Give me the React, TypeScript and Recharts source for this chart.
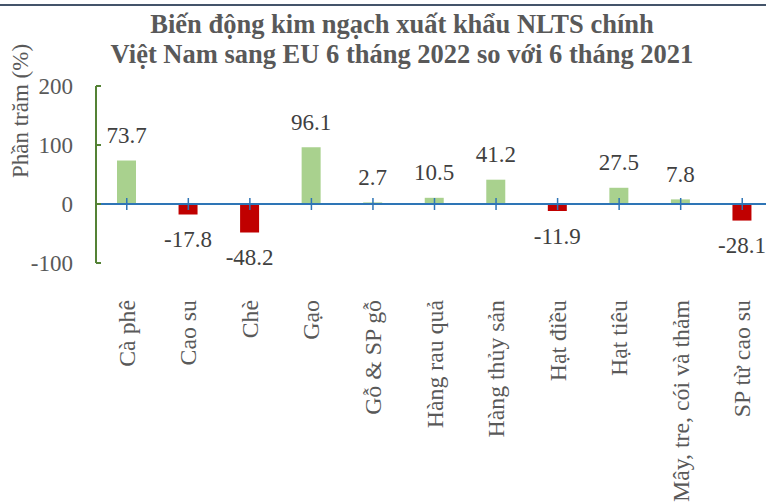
import {
  BarChart,
  Bar,
  XAxis,
  YAxis,
  Cell,
  LabelList,
  ReferenceLine,
  ReferenceDot,
} from 'recharts'

const categories = [
  'Cà phê',
  'Cao su',
  'Chè',
  'Gạo',
  'Gỗ & SP gỗ',
  'Hàng rau quả',
  'Hàng thủy sản',
  'Hạt điều',
  'Hạt tiêu',
  'Mây, tre, cói và thảm',
  'SP từ cao su',
]
const changes = [73.7, -17.8, -48.2, 96.1, 2.7, 10.5, 41.2, -11.9, 27.5, 7.8, -28.1]
const yTicks = [-100, 0, 100, 200]

const data = categories.map((name, i) => ({ name, value: changes[i] }))

const FONT = '"Liberation Serif", "Times New Roman", serif'
const GREEN = '#a9d18e'
const RED = '#c00000'
const AXIS_GREEN = '#548235'
const BLUE = '#2e75b6'

const CategoryTick = (props: any) => {
  const { x, y, payload } = props
  return (
    <text
      transform={`translate(${x + 8},${y + 37}) rotate(-90)`}
      textAnchor="end"
      fill="#595959"
      fontSize={23.8}
      fontFamily={FONT}
    >
      {payload.value}
    </text>
  )
}

const ValueLabel = (props: any) => {
  const { x, y, width, height, value } = props
  const top = Math.min(y, y + height)
  const bottom = Math.max(y, y + height)
  const cy = value >= 0 ? top - 25 : bottom + 25
  return (
    <text
      x={x + width / 2}
      y={cy}
      textAnchor="middle"
      dominantBaseline="central"
      fill="#404040"
      fontSize={23}
      fontFamily={FONT}
    >
      {value}
    </text>
  )
}

const ZeroTick = (props: any) => {
  const { cx, cy } = props
  return <line x1={cx} y1={cy - 6} x2={cx} y2={cy + 6} stroke={BLUE} strokeWidth={1.5} />
}

export default function App() {
  return (
    <div
      style={{
        position: 'absolute',
        left: 0,
        top: 0,
        width: 766,
        height: 503,
        overflow: 'hidden',
        background: '#fff',
      }}
    >
      <div
        style={{
          position: 'absolute',
          left: 0,
          top: 4,
          width: 766,
          height: 1.5,
          background: '#44546a',
        }}
      />
      <div
        style={{
          position: 'absolute',
          left: 52,
          top: 9,
          width: 700,
          textAlign: 'center',
          fontFamily: FONT,
          fontWeight: 'bold',
          fontSize: 26.5,
          lineHeight: '30px',
          color: '#595959',
          zIndex: 2,
        }}
      >
        Biến động kim ngạch xuất khẩu NLTS chính
        <br />
        Việt Nam sang EU 6 tháng 2022 so với 6 tháng 2021
      </div>
      <BarChart
        width={790}
        height={503}
        data={data}
        margin={{ top: 86, right: 17, bottom: 0, left: 0 }}
      >
        <XAxis
          dataKey="name"
          axisLine={false}
          tickLine={false}
          tickSize={0}
          tickMargin={0}
          height={240}
          interval={0}
          tick={<CategoryTick />}
        />
        <YAxis
          width={96}
          domain={[-100, 200]}
          ticks={yTicks}
          interval={0}
          axisLine={{ stroke: AXIS_GREEN, strokeWidth: 2 }}
          tickLine={{ stroke: AXIS_GREEN, strokeWidth: 2 }}
          tickSize={-5}
          tickMargin={28}
          tick={{ fill: '#595959', fontSize: 23, fontFamily: FONT }}
          label={{
            content: ({ viewBox }: any) => (
              <text
                transform={`translate(${viewBox.x + 20},111) rotate(-90)`}
                textAnchor="middle"
                dominantBaseline="central"
                fill="#595959"
                fontSize={23}
                fontFamily={FONT}
              >
                Phần trăm (%)
              </text>
            ),
          }}
        />
        <Bar dataKey="value" barSize={19} isAnimationActive={false}>
          {data.map((d) => (
            <Cell key={d.name} fill={d.value >= 0 ? GREEN : RED} />
          ))}
          <LabelList dataKey="value" content={<ValueLabel />} />
        </Bar>
        <ReferenceLine y={0} stroke={BLUE} strokeWidth={2} />
        {categories.map((c) => (
          <ReferenceDot key={c} x={c} y={0} shape={<ZeroTick />} />
        ))}
      </BarChart>
    </div>
  )
}
